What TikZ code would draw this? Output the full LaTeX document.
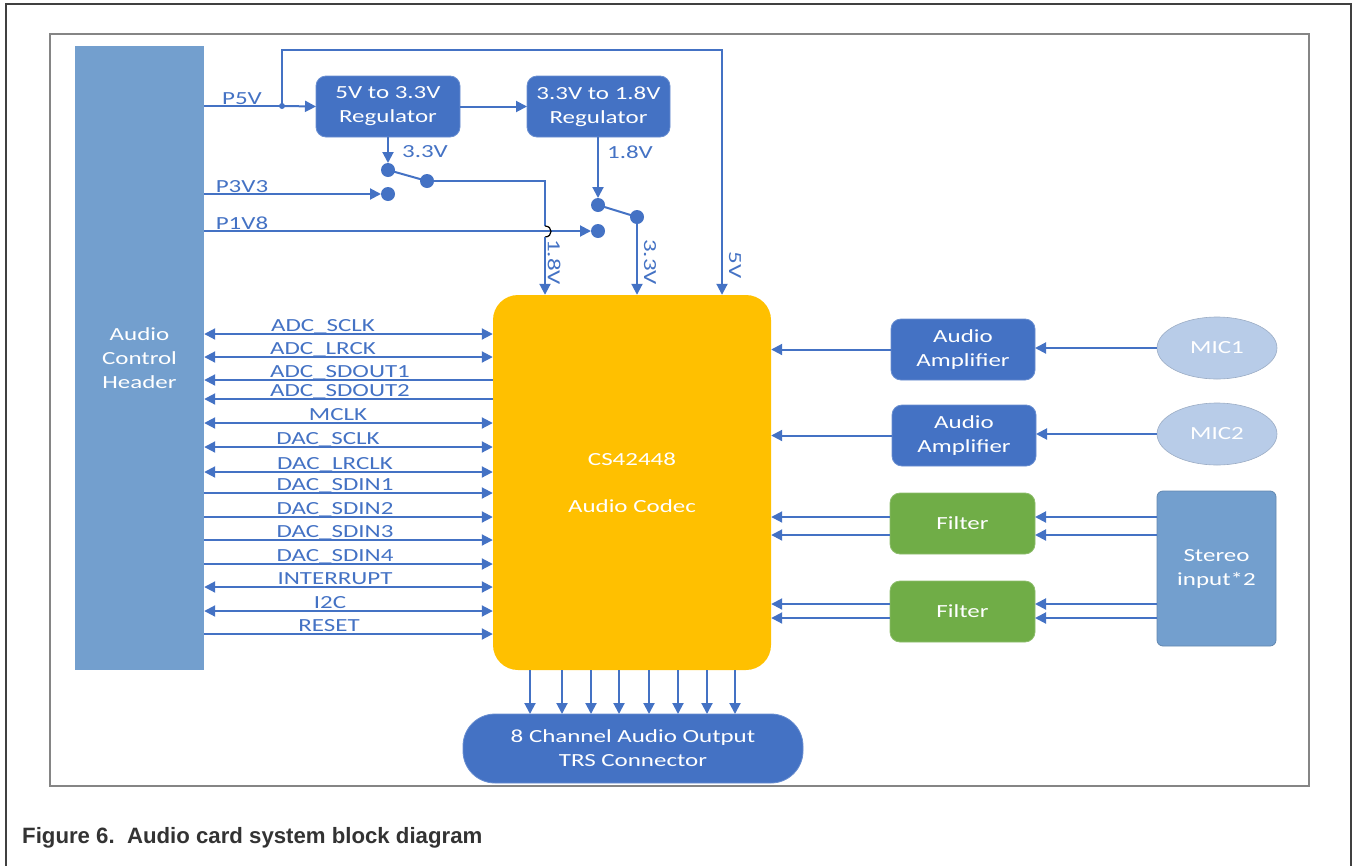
\documentclass[tikz,border=0pt]{standalone}
\usepackage{fontspec}
\setmainfont{Carlito}[FakeStretch=1.35]
\newfontfamily\capfont{Liberation Sans}
\usetikzlibrary{arrows.meta,calc,shapes.geometric}
\definecolor{bl}{HTML}{4472C4}
\definecolor{hdrc}{HTML}{739FCE}
\definecolor{codecc}{HTML}{FFC000}
\definecolor{filt}{HTML}{70AD47}
\definecolor{micc}{HTML}{B8CCE8}
\definecolor{capc}{HTML}{333333}
\definecolor{frameo}{HTML}{404040}
\definecolor{framei}{HTML}{858585}
\begin{document}
\begin{tikzpicture}[x=1pt,y=-1pt,
  font=\fontsize{18.5}{24}\selectfont,
  wire/.style={draw=bl, line width=2pt},
  toR/.style={wire, -{Triangle[length=11pt,width=11pt]}},
  toL/.style={wire, {Triangle[length=11pt,width=11pt]}-},
  bidir/.style={wire, {Triangle[length=11pt,width=11pt]}-{Triangle[length=11pt,width=11pt]}},
  blk/.style={rectangle, draw=bl!80!white, line width=0.8pt, fill=bl, text=white, align=center, inner sep=0pt, outer sep=0pt, rounded corners=10pt},
  lbl/.style={text=bl, inner sep=0pt},
  contact/.style={circle, fill=bl, minimum size=14pt, inner sep=0pt, outer sep=0pt},
]
\useasboundingbox (0,0) rectangle (1354,865);
% frames
\draw[line width=2.2pt, draw=frameo] (6,866) -- (6,4) -- (1351,4) -- (1351,866);
\draw[line width=1.6pt, draw=framei] (50,34) rectangle (1309,786);

% blocks
\node[rectangle, fill=hdrc, text=white, align=center, minimum width=129pt, minimum height=624pt, inner sep=0pt] (hdr) at (139.5,358) {Audio\\Control\\Header};
\node[blk, minimum width=144pt, minimum height=61pt] (reg1) at (388,106.5) {\raisebox{-2pt}{5V to 3.3V}\\\raisebox{-2pt}{Regulator}};
\node[blk, minimum width=143pt, minimum height=61pt] (reg2) at (598.5,106.5) {\raisebox{-2pt}{3.3V to 1.8V}\\\raisebox{-2pt}{Regulator}};
\node[rectangle, fill=codecc, text=white, align=center, minimum width=278pt, minimum height=375pt, inner sep=0pt, rounded corners=25pt] (codec) at (632,482.5) {CS42448\\[23pt]Audio Codec};
\node[blk, minimum width=144pt, minimum height=61pt] (amp1) at (963,349.5) {Audio\\Amplifier};
\node[blk, minimum width=144pt, minimum height=61pt] (amp2) at (964,435.5) {Audio\\Amplifier};
\node[blk, fill=filt, draw=filt!80!white, minimum width=145pt, minimum height=61pt] (filt1) at (962.5,523.5) {Filter};
\node[blk, fill=filt, draw=filt!80!white, minimum width=145pt, minimum height=61pt] (filt2) at (962.5,611.5) {Filter};
\node[ellipse, fill=micc, draw=micc!85!black, line width=0.6pt, text=white, minimum width=120pt, minimum height=62pt, inner sep=0pt] (mic1) at (1217,348) {MIC1};
\node[ellipse, fill=micc, draw=micc!85!black, line width=0.6pt, text=white, minimum width=120pt, minimum height=62pt, inner sep=0pt] (mic2) at (1217,434) {MIC2};
\node[blk, fill=hdrc, draw=hdrc!85!black, rounded corners=6pt, minimum width=119pt, minimum height=155pt] (stereo) at (1216.5,568.5) {Stereo\\input*2};
\node[blk, rounded corners=32pt, minimum width=340pt, minimum height=69pt] (out) at (633,748.5) {8 Channel Audio Output\\TRS Connector};

% power section
\node[circle, fill=bl, minimum size=6pt, inner sep=0pt] (jn) at (282,106) {};
\coordinate (t1) at (282,50);
\coordinate (t2) at (722,50);
\draw[wire] (hdr.east |- jn) -- (jn.center);
\draw[toR] (jn.center) -- (reg1.west);
\draw[toR] (jn.center) -- (t1) -- (t2) -- (t2 |- codec.north);
\draw[toR] (reg1.east) -- (reg2.west);

\coordinate (s1aP) at (388,170);
\coordinate (s1pP) at (427,181);
\coordinate (s1bP) at (388,194);
\coordinate (s2aP) at (598,205);
\coordinate (s2pP) at (637,217);
\coordinate (s2bP) at (598,231);
\draw[wire] (s1aP) -- (s1pP);
\draw[wire] (s2aP) -- (s2pP);
\node[contact] (s1a) at (s1aP) {};
\node[contact] (s1p) at (s1pP) {};
\node[contact] (s1b) at (s1bP) {};
\node[contact] (s2a) at (s2aP) {};
\node[contact] (s2p) at (s2pP) {};
\node[contact] (s2b) at (s2bP) {};

\draw[toR] (reg1.south -| s1a) -- (s1a.north);
\draw[toR] (reg2.south -| s2a) -- (s2a.north);
\draw[toR] (hdr.east |- s1b) -- (s1b.west);
\draw[toR] (hdr.east |- s2b) -- (s2b.west);

\coordinate (h1) at (545,181);
\coordinate (ha) at (545,226);
\coordinate (hb) at (545,237);
\draw[wire] (s1p.center) -- (h1) -- (ha);
\draw[black, line width=1.2pt] (ha) .. controls +(8,0) and +(8,0) .. (hb);
\draw[toR] (hb) -- (hb |- codec.north);
\draw[toR] (s2p.center) -- (s2p |- codec.north);

\node[lbl, anchor=base] (lp5) at (242,104) {P5V};
\node[lbl, anchor=base] (lp33) at (242,192) {P3V3};
\node[lbl, anchor=base] (lp18) at (242,229) {P1V8};
\node[lbl] (l33a) at (425,152) {3.3V};
\node[lbl] (l18a) at (630,152) {1.8V};
\node[lbl, rotate=-90] (l18b) at (554,262) {1.8V};
\node[lbl, rotate=-90] (l33b) at (650,262) {3.3V};
\node[lbl, rotate=-90] (l5v) at (735,265) {5V};

% signal bus
\foreach \n/\y/\st/\tx/\lab in {
  1/334/bidir/323/ADC\_SCLK,
  2/357/bidir/323/ADC\_LRCK,
  3/380/toL/340/ADC\_SDOUT1,
  4/399/toL/340/ADC\_SDOUT2,
  5/423/bidir/338/MCLK,
  6/447/bidir/328/DAC\_SCLK,
  7/472/bidir/335/DAC\_LRCLK,
  8/493/toR/335/DAC\_SDIN1,
  9/517/toR/335/DAC\_SDIN2,
  10/540/toR/335/DAC\_SDIN3,
  11/564/toR/335/DAC\_SDIN4,
  12/587/bidir/335/INTERRUPT,
  13/611/bidir/330/I2C,
  14/634/toR/329/RESET}{
  \coordinate (sig\n) at (0,\y);
  \draw[\st] (hdr.east |- sig\n) -- (codec.west |- sig\n);
  \node[lbl, anchor=base] (siglab\n) at (\tx,\y-3) {\lab};
}

% right side
\draw[toR] (amp1.west) -- (amp1.west -| codec.east);
\draw[toR] (amp2.west) -- (amp2.west -| codec.east);
\draw[toR] (mic1.west) -- (mic1.west -| amp1.east);
\draw[toR] (mic2.west) -- (mic2.west -| amp2.east);
\foreach \n/\y/\f in {a/517/filt1, b/535/filt1, c/604/filt2, d/618/filt2}{
  \coordinate (fy\n) at (0,\y);
  \draw[toR] (stereo.west |- fy\n) -- (\f.east |- fy\n);
  \draw[toR] (\f.west |- fy\n) -- (codec.east |- fy\n);
}

% outputs
\foreach \x [count=\i] in {530,562,591,619,649,678,707,735}{
  \coordinate (ox\i) at (\x,0);
  \draw[toR] (codec.south -| ox\i) -- (out.north -| ox\i);
}

% caption
\node[font=\capfont\bfseries\fontsize{22.2}{27}\selectfont, text=capc, anchor=base west, inner sep=0pt] (cap) at (22,843) {Figure 6.\ \ Audio card system block diagram};
\end{tikzpicture}
\end{document}
